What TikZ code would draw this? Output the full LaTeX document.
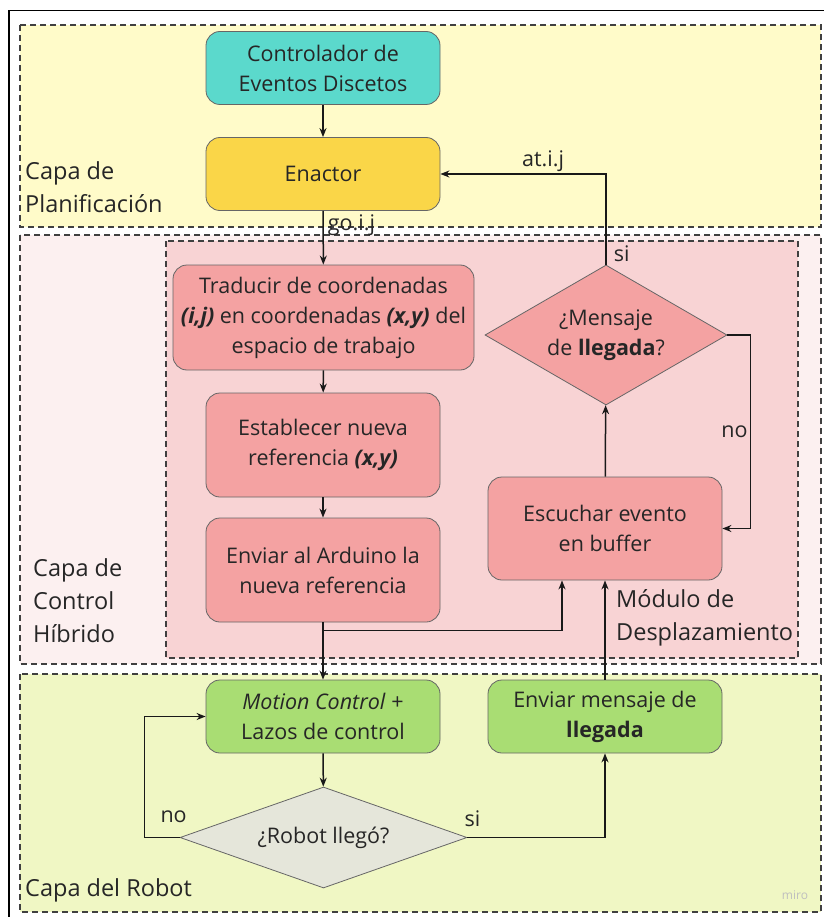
\documentclass[tikz,border=0pt]{standalone}
\usepackage{fontspec}
\setmainfont{Open Sans}
\usetikzlibrary{shapes.geometric,arrows.meta,positioning}

\definecolor{planfill}{HTML}{FFFBC9}
\definecolor{hybfill}{HTML}{FCF0F0}
\definecolor{modfill}{HTML}{F8D3D4}
\definecolor{robotfill}{HTML}{F0F7C4}
\definecolor{tealbox}{HTML}{5BD9CC}
\definecolor{enactbox}{HTML}{FAD648}
\definecolor{pinkbox}{HTML}{F4A2A2}
\definecolor{greenbox}{HTML}{A9DD73}
\definecolor{greydiam}{HTML}{E5E6DA}

\begin{document}
\begin{tikzpicture}[
    x=1pt, y=-1pt,
    every node/.style={font=\fontsize{21.5}{30}\selectfont, text=black!85},
    layer/.style={draw=black!75, line width=1.4pt, dash pattern=on 6pt off 4pt},
    layertxt/.style={font=\fontsize{23.5}{33}\selectfont, align=left, inner sep=0pt, anchor=west},
    box/.style={rectangle, rounded corners=14pt, draw=black!60, line width=0.8pt, align=center, minimum width=234pt, minimum height=73pt},
    decision/.style={diamond, draw=black!60, line width=0.8pt, align=center, inner sep=0pt},
    lbl/.style={inner sep=2pt},
    arrow/.style={-{Stealth[length=9pt,width=7pt]}, line width=1.5pt, black!90}
]
    \useasboundingbox (0,0) rectangle (823,917);

    % Layers
    \draw[line width=1.5pt] (9,918) -- (9,10.5) -- (824,10.5);
    \draw[layer, fill=planfill] (20,25) rectangle (821,227);
    \draw[layer, fill=hybfill] (20,235) rectangle (821,664);
    \draw[layer, fill=modfill] (166,241) rectangle (798,658);
    \draw[layer, fill=robotfill] (20,674) rectangle (821,912);

    \node[layertxt] (plan) at (25,187) {Capa de\\Planificación};
    \node[layertxt] (hibrido) at (33,601) {Capa de\\Control\\Híbrido};
    \node[layertxt] (modulo) at (616,618) {Módulo de\\Desplazamiento};
    \node[layertxt] (robotcapa) at (25,890) {Capa del Robot};
    \node[text=black!25, font=\fontsize{12}{14}\selectfont] (miro) at (795,895) {miro};

    % Nodes
    \node[box, fill=tealbox] (ced) at (323,68) {Controlador de\\Eventos Discetos};
    \node[box, fill=enactbox] (enactor) at (323,174) {Enactor};
    \node[box, fill=pinkbox, minimum width=301pt, minimum height=105pt, inner sep=4pt] (traducir) at (323.5,317.5)
        {Traducir de coordenadas\\\textbf{\textit{(i,j)}} en coordenadas \textbf{\textit{(x,y)}} del\\espacio de trabajo};
    \node[box, fill=pinkbox, minimum height=104pt] (establecer) at (323,445) {Establecer nueva\\referencia \textbf{\textit{(x,y)}}};
    \node[box, fill=pinkbox, minimum height=104pt] (arduino) at (323,570) {Enviar al Arduino la\\nueva referencia};
    \node[box, fill=greenbox] (motion) at (323,716.5) {\textit{Motion Control} +\\Lazos de control};
    \node[decision, fill=greydiam, aspect=2.84, minimum width=287pt, minimum height=101pt] (robot) at (323.5,837.5) {¿Robot llegó?};

    \node[decision, fill=pinkbox, aspect=1.73, minimum width=242pt, minimum height=140pt] (mensaje) at (606,335) {¿Mensaje\\de \textbf{llegada}?};
    \node[box, fill=pinkbox, minimum height=103pt] (escuchar) at (605,528.5) {Escuchar evento\\en buffer};
    \node[box, fill=greenbox] (llegada) at (605,716.5) {Enviar mensaje de\\\textbf{llegada}};

    % Planning flow
    \draw[arrow] (ced) -- (enactor);
    \draw[arrow] (enactor) -- node[lbl, pos=0.27, right, xshift=2pt] {go.i.j} (traducir);

    % Hybrid control flow
    \draw[arrow] (traducir) -- (establecer);
    \draw[arrow] (establecer) -- (arduino);
    \draw[arrow] (arduino) -- (motion);
    \draw[arrow] (arduino.south) -- ++(0,8) -| ([xshift=-43pt]escuchar.south);
    \draw[arrow] (llegada) -- (escuchar);
    \draw[arrow] (escuchar) -- (mensaje);
    \draw[arrow] (mensaje.north) node[lbl, above right, xshift=5pt] {si} |- node[lbl, pos=0.69, above] {at.i.j} (enactor.east);
    \draw[arrow] (mensaje.east) -- ++(23,0) |- node[lbl, pos=0.25, left] {no} (escuchar.east);

    % Robot loop
    \draw[arrow] (robot.west) node[lbl, above, xshift=-6pt, yshift=12pt] {no} -- ++(-35,0) |- (motion.west);
    \draw[arrow] (motion) -- (robot);
    \draw[arrow] (robot.east) node[lbl, above, xshift=5pt, yshift=8pt] {si} -| (llegada.south);
\end{tikzpicture}
\end{document}
